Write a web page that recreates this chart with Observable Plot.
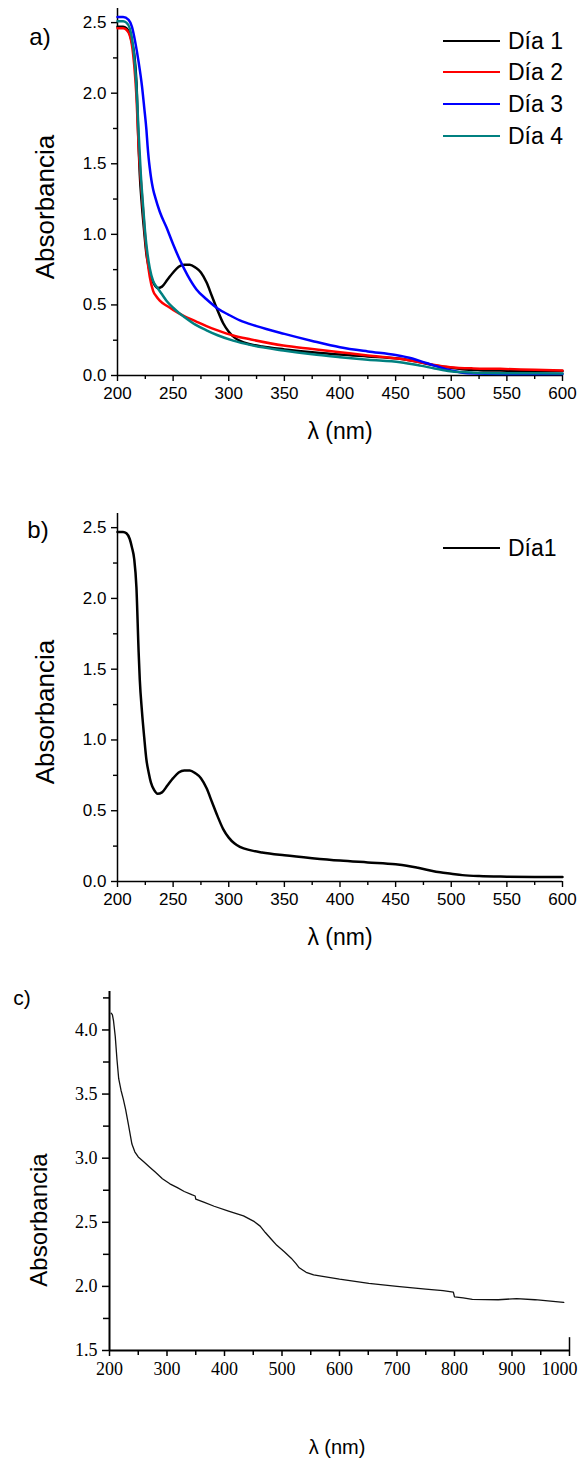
<!DOCTYPE html>
<html>
<head>
<meta charset="utf-8">
<script src="https://cdn.jsdelivr.net/npm/d3@7"></script>
<script src="https://cdn.jsdelivr.net/npm/@observablehq/plot@0.6"></script>
<style>
  html, body { margin: 0; padding: 0; background: #fff; overflow: hidden; }
  #root { position: relative; width: 579px; height: 1460px; background: #fff; overflow: hidden; }
  .lbl { position: absolute; white-space: nowrap; color: #000; line-height: 1; }
  .sans { font-family: "Liberation Sans", Arial, sans-serif; }
</style>
</head>
<body>
<div id="root"></div>
<script>
// ---------- DATA ----------
// Panel a / b : Día 1 (black)
const wlDia1 = [200,205,208,211,213,215,217,219,220,222,224,226,228,230,233,236,240,245,250,255,260,265,270,275,280,285,290,295,300,305,310,320,330,350,375,400,425,450,460,470,480,490,500,510,525,550,575,600];
const absDia1 = [2.47,2.47,2.46,2.42,2.36,2.28,2.08,1.62,1.43,1.2,1.02,0.86,0.77,0.70,0.645,0.62,0.63,0.68,0.73,0.77,0.785,0.785,0.765,0.73,0.66,0.56,0.46,0.37,0.31,0.27,0.245,0.22,0.205,0.185,0.165,0.148,0.135,0.122,0.112,0.097,0.08,0.065,0.055,0.045,0.038,0.034,0.032,0.031];
// Día 2 (red)
const wlDia2 = [200,205,208,211,213,215,217,219,221,223,225,227,229,232,235,238,245,250,259,270,280,290,304,320,349,375,400,425,454,472,485,499,520,544,575,600];
const absDia2 = [2.46,2.46,2.45,2.41,2.34,2.2,1.98,1.62,1.38,1.17,0.97,0.81,0.70,0.60,0.56,0.53,0.49,0.465,0.424,0.385,0.35,0.32,0.283,0.255,0.212,0.188,0.165,0.142,0.118,0.094,0.075,0.059,0.05,0.047,0.04,0.035];
// Día 3 (blue)
const wlDia3 = [200,205,210,213,216,219,222,224,226,227,228,229,230,231,232,234,238,244,250,256,263,271,280,290,300,310,325,350,375,400,425,450,465,475,485,500,515,550,600];
const absDia3 = [2.54,2.54,2.52,2.47,2.36,2.22,2.05,1.9,1.74,1.63,1.54,1.47,1.41,1.36,1.32,1.26,1.16,1.05,0.93,0.82,0.71,0.61,0.54,0.475,0.43,0.39,0.35,0.295,0.245,0.20,0.17,0.145,0.12,0.095,0.07,0.035,0.016,0.011,0.01];
// Día 4 (teal)
const wlDia4 = [200,205,208,211,213,215,217,219,221,223,225,227,229,232,236,240,244,250,255,260,270,280,290,304,320,349,375,400,425,454,472,485,499,520,550,600];
const absDia4 = [2.51,2.51,2.50,2.46,2.39,2.26,2.05,1.72,1.42,1.2,1.0,0.86,0.76,0.67,0.62,0.575,0.53,0.48,0.445,0.415,0.36,0.32,0.285,0.247,0.215,0.177,0.15,0.13,0.112,0.094,0.07,0.05,0.03,0.02,0.016,0.015];
// Panel c
const wlC = [203,205,207,210,213,216,220,224,228,233,239,244,250,260,270,280,292,305,318,330,343,349,350,365,382,407,433,452,462,471,481,491,504,516,524,530,542,555,568,600,651,700,750,780,798,800,815,831,876,908,940,985,990];
const absC = [4.13,4.12,4.07,3.95,3.77,3.62,3.53,3.46,3.38,3.26,3.11,3.05,3.01,2.97,2.93,2.89,2.84,2.80,2.77,2.74,2.715,2.705,2.68,2.655,2.625,2.587,2.55,2.505,2.47,2.42,2.37,2.32,2.27,2.22,2.18,2.145,2.11,2.09,2.08,2.056,2.023,2.0,1.978,1.967,1.955,1.918,1.91,1.899,1.896,1.905,1.896,1.878,1.875];

const seriesA = [
  {name: "Día 1", color: "#000000", wl: wlDia1, abs: absDia1},
  {name: "Día 2", color: "#ff0000", wl: wlDia2, abs: absDia2},
  {name: "Día 3", color: "#0000ff", wl: wlDia3, abs: absDia3},
  {name: "Día 4", color: "#008080", wl: wlDia4, abs: absDia4}
];
const xTicksAB = [200,250,300,350,400,450,500,550,600];
const xMinorAB = [225,275,325,375,425,475,525,575];
const yTicksAB = [0,0.5,1.0,1.5,2.0,2.5];
const yMinorAB = [0.25,0.75,1.25,1.75,2.25];
const xTicksC = [200,300,400,500,600,700,800,900];
const xLastC = [1000];
const xMinorC = [250,350,450,550,650,750,850,950];
const yTicksC = [1.5,2.0,2.5,3.0,3.5,4.0];
const yMinorC = [1.75,2.25,2.75,3.25,3.75,4.25];

const rows = (wl, abs) => wl.map((w, i) => ({wl: w, abs: abs[i]}));
const noText = () => "";

// ---------- HELPERS ----------
const root = document.getElementById("root");
function place(node, top) {
  node.style.position = "absolute";
  node.style.left = "0px";
  node.style.top = top + "px";
  root.appendChild(node);
}
function label(text, x, y, size, rotate) {
  const d = document.createElement("div");
  d.className = "lbl sans";
  d.textContent = text;
  d.style.fontSize = size + "px";
  d.style.left = x + "px";
  d.style.top = y + "px";
  d.style.transform = "translate(-50%,-50%)" + (rotate ? " rotate(-90deg)" : "");
  root.appendChild(d);
}
function legendEntry(text, color, y) {
  const ln = document.createElement("div");
  ln.style.position = "absolute";
  ln.style.left = "443px"; ln.style.width = "57px";
  ln.style.top = (y - 1.25) + "px"; ln.style.height = "2.5px";
  ln.style.background = color;
  root.appendChild(ln);
  const t = document.createElement("div");
  t.className = "lbl sans";
  t.textContent = text;
  t.style.fontSize = "23px";
  t.style.left = "508px";
  t.style.top = y + "px";
  t.style.transform = "translate(0,-50%)";
  root.appendChild(t);
}

function axesAB() {
  return [
    Plot.axisX({ticks: xTicksAB, tickSize: 6, tickPadding: 5, strokeWidth: 1.4, label: null}),
    Plot.axisX({ticks: xMinorAB, tickSize: 4, tickFormat: noText, strokeWidth: 1.4, label: null}),
    Plot.axisY({ticks: yTicksAB, tickSize: 6, tickPadding: 5, strokeWidth: 1.4, tickFormat: d3.format(".1f"), label: null}),
    Plot.axisY({ticks: yMinorAB, tickSize: 4, tickFormat: noText, strokeWidth: 1.4, label: null}),
    Plot.ruleX([200], {strokeWidth: 1.5}),
    Plot.ruleY([0], {strokeWidth: 1.5})
  ];
}
const styleAB = {fontFamily: "'Liberation Sans', Arial, sans-serif", fontSize: "17px", color: "#000", background: "transparent", overflow: "visible"};

// ---------- PANEL A ----------
const plotA = Plot.plot({
  width: 579, height: 420,
  marginTop: 8, marginLeft: 117, marginRight: 17, marginBottom: 45,
  x: {domain: [200, 600]}, y: {domain: [0, 2.6]},
  style: styleAB,
  marks: [
    ...axesAB(),
    ...seriesA.map(s => Plot.line(rows(s.wl, s.abs), {x: "wl", y: "abs", stroke: s.color, strokeWidth: 2.5, curve: "monotone-x"}))
  ]
});
place(plotA, 0);

// ---------- PANEL B ----------
const plotB = Plot.plot({
  width: 579, height: 420,
  marginTop: 8, marginLeft: 117, marginRight: 17, marginBottom: 44,
  x: {domain: [200, 600]}, y: {domain: [0, 2.6]},
  style: styleAB,
  marks: [
    ...axesAB(),
    Plot.line(rows(wlDia1, absDia1), {x: "wl", y: "abs", stroke: "#000", strokeWidth: 2.5, curve: "monotone-x"})
  ]
});
place(plotB, 505);

// ---------- PANEL C ----------
const plotC = Plot.plot({
  width: 579, height: 440,
  marginTop: 31, marginLeft: 109, marginRight: 10, marginBottom: 50,
  x: {domain: [200, 1000]}, y: {domain: [1.5, 4.3]},
  style: {fontFamily: "'Liberation Serif', 'Times New Roman', serif", fontSize: "18px", color: "#000", background: "transparent", overflow: "visible"},
  marks: [
    Plot.axisX({ticks: xTicksC, tickSize: 6, tickPadding: 6, strokeWidth: 1.5, tickFormat: d => String(d), label: null}),
    Plot.axisX({ticks: xLastC, tickSize: 6, strokeWidth: 1.5, tickFormat: noText, label: null}),
    Plot.axisX({ticks: xLastC, tickSize: 0, tickPadding: 12, dx: -10, tickFormat: d => String(d), label: null}),
    Plot.axisX({ticks: xMinorC, tickSize: 5, tickFormat: noText, strokeWidth: 1.5, label: null}),
    Plot.axisY({ticks: yTicksC, tickSize: 7, tickPadding: 5, strokeWidth: 1.5, tickFormat: d3.format(".1f"), label: null}),
    Plot.axisY({ticks: yMinorC, tickSize: 6, tickFormat: noText, strokeWidth: 1.5, label: null}),
    Plot.ruleX([200], {strokeWidth: 2}),
    Plot.ruleY([1.5], {strokeWidth: 2}),
    Plot.ruleX(xLastC, {y1: 1.5, y2: 1.6, strokeWidth: 1.5}),
    Plot.line(rows(wlC, absC), {x: "wl", y: "abs", stroke: "#111", strokeWidth: 1.3})
  ]
});
place(plotC, 960);

// ---------- TEXT ----------
label("a)", 40, 37, 24);
label("b)", 38, 530, 24);
label("c)", 22, 997, 21);
label("Absorbancia", 45, 207, 26, true);
label("Absorbancia", 45, 712, 26, true);
label("Absorbancia", 39, 1220, 24, true);
label("λ (nm)", 340, 431, 23);
label("λ (nm)", 340, 937, 23);
label("λ (nm)", 337, 1447, 20);

seriesA.forEach((s, i) => legendEntry(s.name, s.color, [41, 72, 104, 136][i]));
legendEntry("Día1", "#000000", 548);
</script>
</body>
</html>
